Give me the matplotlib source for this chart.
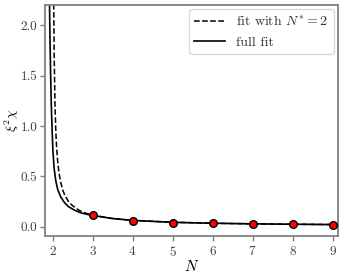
import numpy as np
import matplotlib.pyplot as plt

plt.rcParams['font.family'] = 'serif'
plt.rcParams['font.serif'] = ['cmr10']
plt.rcParams['mathtext.fontset'] = 'cm'
plt.rcParams['axes.formatter.use_mathtext'] = True

# measured points
N_data = [3, 4, 5, 6, 7, 8, 9]
xi_data = [0.113, 0.062, 0.043, 0.034, 0.028, 0.025, 0.023]

# fit with N* = 2
N_fix = [2.03, 2.04, 2.06, 2.08, 2.10, 2.13, 2.16, 2.20, 2.25, 2.30, 2.40, 2.50,
         2.65, 2.80, 3.0, 3.5, 4.0, 5.0, 6.0, 7.0, 8.0, 9.0, 9.2]
xi_fix = [2.21, 1.73, 1.23, 0.97, 0.80, 0.64, 0.54, 0.45, 0.37, 0.32, 0.25, 0.21,
          0.167, 0.140, 0.116, 0.082, 0.065, 0.046, 0.036, 0.030, 0.026, 0.0226, 0.0221]

# full fit
N_full = [1.925, 1.935, 1.95, 1.97, 1.99, 2.01, 2.04, 2.08, 2.13, 2.20, 2.30, 2.40,
          2.55, 2.70, 2.85, 3.0, 3.5, 4.0, 5.0, 6.0, 7.0, 8.0, 9.0, 9.2]
xi_full = [2.2, 1.9, 1.55, 1.2, 0.95, 0.75, 0.58, 0.46, 0.37, 0.30, 0.24, 0.20,
           0.165, 0.14, 0.125, 0.113, 0.083, 0.064, 0.045, 0.036, 0.030, 0.026, 0.023, 0.022]

fig = plt.figure(figsize=(3.43, 2.75), dpi=100)
ax = fig.add_axes([0.131, 0.142, 0.854, 0.84])

ax.plot(N_fix, xi_fix, 'k--', lw=1.1, label=r'fit with $N^{*}=2$')
ax.plot(N_full, xi_full, 'k-', lw=1.2, label='full fit')
ax.plot(N_data, xi_data, 'o', ms=5.5, mfc='red', mec='black', mew=1.0, zorder=3)

ax.set_xlim(1.81, 9.13)
ax.set_ylim(-0.09, 2.2)
ax.set_xticks([2, 3, 4, 5, 6, 7, 8, 9])
ax.set_yticks([0.0, 0.5, 1.0, 1.5, 2.0])
ax.set_yticklabels(['0.0', '0.5', '1.0', '1.5', '2.0'])
ax.set_xlabel(r'$N$', fontsize=11, labelpad=0)
ax.set_ylabel(r'$\xi^2\chi$', fontsize=10)
ax.yaxis.set_label_coords(-0.08, 0.5)

for s in ax.spines.values():
    s.set_color('#808080')
    s.set_linewidth(1.3)
ax.tick_params(colors='#808080', labelcolor='#404040', labelsize=9.5, length=3.5, width=1.0)
ax.tick_params(axis='y', pad=2)
ax.tick_params(axis='x', pad=3)

leg = ax.legend(loc='upper right', fontsize=10, frameon=True, fancybox=True,
                handlelength=2.2, borderaxespad=0.3)
leg.get_frame().set_edgecolor('#d0d0d0')
for t in leg.get_texts():
    t.set_color('#303030')

fig.savefig('out.png', dpi=100)
